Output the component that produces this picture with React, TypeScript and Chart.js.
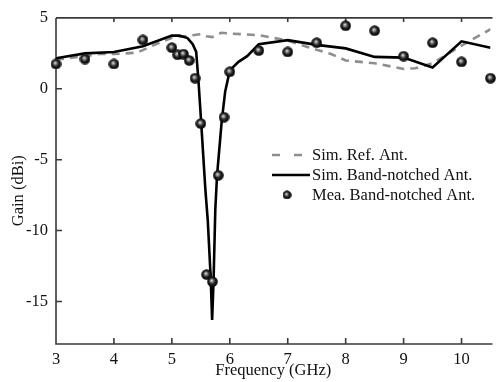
import React, { useEffect, useRef } from 'react';
import { Chart, registerables } from 'chart.js';

Chart.register(...registerables);

// Simulated gain of the reference antenna (GHz, dBi)
const refFreq = [3.0, 3.5, 3.75, 4.0, 4.4, 4.7, 5.0, 5.3, 5.5, 5.6, 5.7, 5.85, 6.0, 6.2, 6.5, 7.0, 7.3, 7.75, 8.0, 8.5, 9.0, 9.2, 9.5, 10.0, 10.5];
const refGain = [2.05, 2.3, 2.45, 2.45, 2.55, 3.1, 3.6, 3.75, 3.85, 3.7, 3.65, 3.95, 3.9, 3.85, 3.78, 3.4, 3.0, 2.45, 2.0, 1.8, 1.4, 1.45, 1.8, 3.05, 4.2];

// Simulated gain of the band-notched antenna
const notchFreq = [3.0, 3.5, 4.0, 4.5, 5.0, 5.13, 5.27, 5.36, 5.42, 5.46, 5.5, 5.58, 5.62, 5.67, 5.695, 5.72, 5.75, 5.78, 5.86, 5.92, 6.0, 6.15, 6.3, 6.5, 7.0, 7.5, 8.0, 8.5, 9.0, 9.5, 10.0, 10.5];
const notchGain = [2.15, 2.5, 2.6, 3.0, 3.75, 3.75, 3.58, 3.15, 2.6, 0.5, -2.0, -7.2, -9.3, -13.3, -16.3, -13.5, -8.5, -6.1, -2.3, -0.2, 1.3, 1.9, 2.3, 3.15, 3.43, 3.1, 2.85, 2.25, 2.2, 1.5, 3.35, 2.9];

// Measured gain of the band-notched antenna
const measFreq = [3.0, 3.5, 4.0, 4.5, 5.0, 5.1, 5.2, 5.3, 5.4, 5.5, 5.6, 5.7, 5.8, 5.9, 6.0, 6.5, 7.0, 7.5, 8.0, 8.5, 9.0, 9.5, 10.0, 10.5];
const measGain = [1.75, 2.1, 1.75, 3.45, 2.9, 2.4, 2.45, 2.0, 0.75, -2.45, -13.1, -13.6, -6.1, -2.0, 1.2, 2.7, 2.6, 3.25, 4.45, 4.1, 2.3, 3.25, 1.9, 0.75];

const xTicks = [3, 4, 5, 6, 7, 8, 9, 10];
const yTicks = [-15, -10, -5, 0, 5];
const legendLabels = ['Sim. Ref. Ant.', 'Sim. Band-notched Ant.', 'Mea. Band-notched Ant.'];
const xTitle = 'Frequency (GHz)';
const yTitle = 'Gain (dBi)';

const FONT = '"Liberation Serif", "Times New Roman", serif';
const FONT_SIZE = 16.5;
const AXIS_COLOR = '#3a3a3a';
const REF_COLOR = '#8e8e8e';
const TEXT_COLOR = '#111';

function makeSphere(size: number): HTMLCanvasElement {
  const c = document.createElement('canvas');
  c.width = size;
  c.height = size;
  const g = c.getContext('2d')!;
  const r = size / 2;
  const grad = g.createRadialGradient(r * 0.82, r * 0.78, 0, r, r, r);
  grad.addColorStop(0, '#ececec');
  grad.addColorStop(0.22, '#9a9a9a');
  grad.addColorStop(0.55, '#222');
  grad.addColorStop(1, '#000');
  g.fillStyle = grad;
  g.beginPath();
  g.arc(r, r, r - 0.2, 0, Math.PI * 2);
  g.fill();
  return c;
}

const toXY = (xs: number[], ys: number[]) => xs.map((x, i) => ({ x, y: ys[i] }));

export default function App() {
  const canvasRef = useRef<HTMLCanvasElement | null>(null);

  useEffect(() => {
    const canvas = canvasRef.current;
    if (!canvas) return;
    const sphere = makeSphere(11);

    // Box frame with inward tick marks
    const framePlugin = {
      id: 'frame',
      beforeDatasetsDraw(chart: any) {
        const { ctx, chartArea: a, scales } = chart;
        const xs = scales.x;
        const ys = scales.y;
        ctx.save();
        ctx.strokeStyle = AXIS_COLOR;
        ctx.lineWidth = 1.6;
        ctx.beginPath();
        ctx.moveTo(a.left, a.top);
        ctx.lineTo(a.right + 2, a.top);
        ctx.moveTo(a.left, a.top);
        ctx.lineTo(a.left, a.bottom);
        ctx.lineTo(a.right + 2, a.bottom);
        for (const t of xTicks) {
          const px = xs.getPixelForValue(t);
          ctx.moveTo(px, a.bottom);
          ctx.lineTo(px, a.bottom - 6);
          ctx.moveTo(px, a.top);
          ctx.lineTo(px, a.top + 4);
        }
        for (const t of yTicks) {
          const py = ys.getPixelForValue(t);
          ctx.moveTo(a.left, py);
          ctx.lineTo(a.left + 6, py);
        }
        ctx.stroke();
        ctx.restore();
      },
      afterDraw(chart: any) {
        const { ctx, chartArea: a } = chart;
        ctx.save();
        // Y-axis title
        ctx.fillStyle = TEXT_COLOR;
        ctx.font = `${FONT_SIZE}px ${FONT}`;
        ctx.textAlign = 'center';
        ctx.textBaseline = 'middle';
        ctx.translate(18.5, a.top + (a.bottom - a.top) * 0.53);
        ctx.rotate(-Math.PI / 2);
        ctx.fillText(yTitle, 0, 0);
        ctx.restore();

        // Legend
        ctx.save();
        const lx = a.left + 216;
        const ly = a.top + 137;
        const step = 20;
        ctx.lineWidth = 2.5;
        ctx.strokeStyle = REF_COLOR;
        ctx.beginPath();
        ctx.moveTo(lx, ly);
        ctx.lineTo(lx + 8, ly);
        ctx.moveTo(lx + 22, ly);
        ctx.lineTo(lx + 30, ly);
        ctx.stroke();
        ctx.strokeStyle = '#000';
        ctx.beginPath();
        ctx.moveTo(lx, ly + step);
        ctx.lineTo(lx + 38, ly + step);
        ctx.stroke();
        ctx.drawImage(sphere, lx + 10.5, ly + 2 * step - 4.5, 9, 9);
        ctx.fillStyle = TEXT_COLOR;
        ctx.font = `${FONT_SIZE}px ${FONT}`;
        ctx.textAlign = 'left';
        ctx.textBaseline = 'middle';
        legendLabels.forEach((t, i) => ctx.fillText(t, lx + 40, ly + i * step + 1));
        ctx.restore();
      },
    };

    const chart = new Chart(canvas, {
      type: 'line',
      data: {
        datasets: [
          {
            label: legendLabels[2],
            data: toXY(measFreq, measGain),
            showLine: false,
            pointStyle: sphere as any,
            pointRadius: 5.5,
            clip: false as any,
            order: 0,
          },
          {
            label: legendLabels[1],
            data: toXY(notchFreq, notchGain),
            borderColor: '#000',
            borderWidth: 2.6,
            pointRadius: 0,
            tension: 0,
            order: 1,
          },
          {
            label: legendLabels[0],
            data: toXY(refFreq, refGain),
            borderColor: REF_COLOR,
            borderWidth: 2.6,
            borderDash: [8, 6],
            pointRadius: 0,
            tension: 0,
            order: 2,
          },
        ],
      },
      options: {
        animation: false,
        responsive: true,
        maintainAspectRatio: false,
        layout: { padding: { top: 17, right: 0, left: 0, bottom: 0 } },
        plugins: { legend: { display: false }, tooltip: { enabled: false } },
        scales: {
          x: {
            type: 'linear',
            min: 3,
            max: 10.5,
            afterBuildTicks: (s: any) => {
              s.ticks = xTicks.map((v) => ({ value: v }));
            },
            afterFit: (s: any) => {
              s.height = 38;
            },
            grid: { display: false, drawTicks: false },
            border: { display: false },
            ticks: {
              padding: 6,
              color: TEXT_COLOR,
              font: { family: FONT, size: FONT_SIZE },
              maxRotation: 0,
            },
            title: {
              display: true,
              text: xTitle,
              color: TEXT_COLOR,
              font: { family: FONT, size: FONT_SIZE },
              padding: { top: 0, bottom: 1 },
            },
          },
          y: {
            type: 'linear',
            min: -18,
            max: 5,
            afterBuildTicks: (s: any) => {
              s.ticks = yTicks.map((v) => ({ value: v }));
            },
            afterFit: (s: any) => {
              s.width = 56;
            },
            grid: { display: false, drawTicks: false },
            border: { display: false },
            ticks: {
              padding: 8,
              color: TEXT_COLOR,
              font: { family: FONT, size: FONT_SIZE },
            },
          },
        },
      },
      plugins: [framePlugin],
    } as any);

    return () => chart.destroy();
  }, []);

  return (
    <div style={{ position: 'absolute', left: 0, top: 0, width: 497, height: 382, background: '#fff' }}>
      <canvas ref={canvasRef} />
    </div>
  );
}
